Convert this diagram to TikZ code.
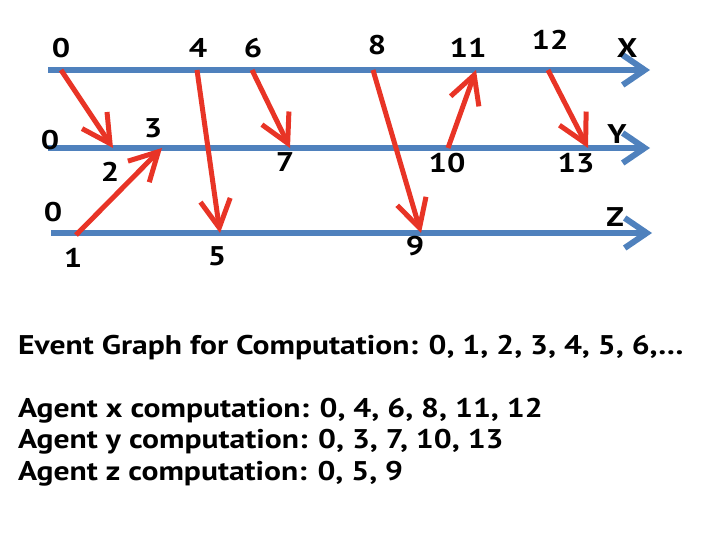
\documentclass[tikz,border=0pt]{standalone}
\usepackage{fontspec}
\setmainfont{PT Sans}
\newfontfamily\numfont[FakeStretch=1.2]{PT Sans Bold}
\newfontfamily\capfont[FakeStretch=1.17]{PT Sans Bold}
\usetikzlibrary{arrows.meta, positioning}
\definecolor{lineblue}{RGB}{79,129,189}
\definecolor{msgred}{RGB}{232,52,38}

\begin{document}
\begin{tikzpicture}[
    x=1pt, y=-1pt,
    timeline/.style={draw=lineblue, line width=6pt, -{Straight Barb[length=22pt,width=30pt]}},
    msg/.style={draw=msgred, line width=5pt, -{Straight Barb[length=28pt,width=30pt]}},
    num/.style={font=\numfont\fontsize{27}{30}\selectfont, inner sep=0pt},
    caption/.style={font=\capfont\fontsize{27}{30}\selectfont, inner sep=0pt, anchor=base west}
]
\useasboundingbox (0,0) rectangle (720,540);

% agent timelines
\coordinate (xstart) at (48,70);  \coordinate (xend) at (650,70);
\coordinate (ystart) at (48,148); \coordinate (yend) at (650,148);
\coordinate (zstart) at (51,233); \coordinate (zend) at (652,233);
\draw[timeline] (xstart) -- (xend);
\draw[timeline] (ystart) -- (yend);
\draw[timeline] (zstart) -- (zend);

% events
\coordinate (x0) at (61,70);
\coordinate (x4) at (197,70);
\coordinate (x6) at (252,70);
\coordinate (x8) at (373,70);
\coordinate (x11) at (476,70);
\coordinate (x12) at (548,70);
\coordinate (y2) at (113,148);
\coordinate (y3) at (162,148);
\coordinate (y7) at (290,148);
\coordinate (y10) at (448,148);
\coordinate (y13) at (588,148);
\coordinate (z1) at (76,235);
\coordinate (z5) at (220,233);
\coordinate (z9) at (421,233);

% messages
\draw[msg] (x0) -- (y2);
\draw[msg] (z1) -- (y3);
\draw[msg] (x4) -- (z5);
\draw[msg] (x6) -- (y7);
\draw[msg] (x8) -- (z9);
\draw[msg] (y10) -- (x11);
\draw[msg] (x12) -- (y13);

% event labels
\node[num] (lx0) at (61,48) {0};
\node[num] (lx4) at (198,48) {4};
\node[num] (lx6) at (253,48) {6};
\node[num] (lx8) at (377,45) {8};
\node[num] (lx11) at (468,48) {11};
\node[num] (lx12) at (550,40) {12};
\node[num] (lX) at (627,48) {X};
\node[num] (ly0) at (50,140) {0};
\node[num] (ly2) at (110,172) {2};
\node[num] (ly3) at (153,128) {3};
\node[num] (ly7) at (285,162) {7};
\node[num] (ly10) at (447,163) {10};
\node[num] (ly13) at (576,163) {13};
\node[num] (lY) at (617,134) {Y};
\node[num] (lz0) at (53,212) {0};
\node[num] (lz1) at (73,258) {1};
\node[num] (lz5) at (217,256) {5};
\node[num] (lz9) at (415,246) {9};
\node[num] (lZ) at (615,217) {Z};

% computation text
\node[caption] (graph) at (18,354) {Event Graph for Computation: 0, 1, 2, 3, 4, 5, 6,…};
\node[caption] (agentx) at (18,417) {Agent x computation: 0, 4, 6, 8, 11, 12};
\node[caption] (agenty) at (18,448.5) {Agent y computation: 0, 3, 7, 10, 13};
\node[caption] (agentz) at (18,480) {Agent z computation: 0, 5, 9};
\end{tikzpicture}
\end{document}
